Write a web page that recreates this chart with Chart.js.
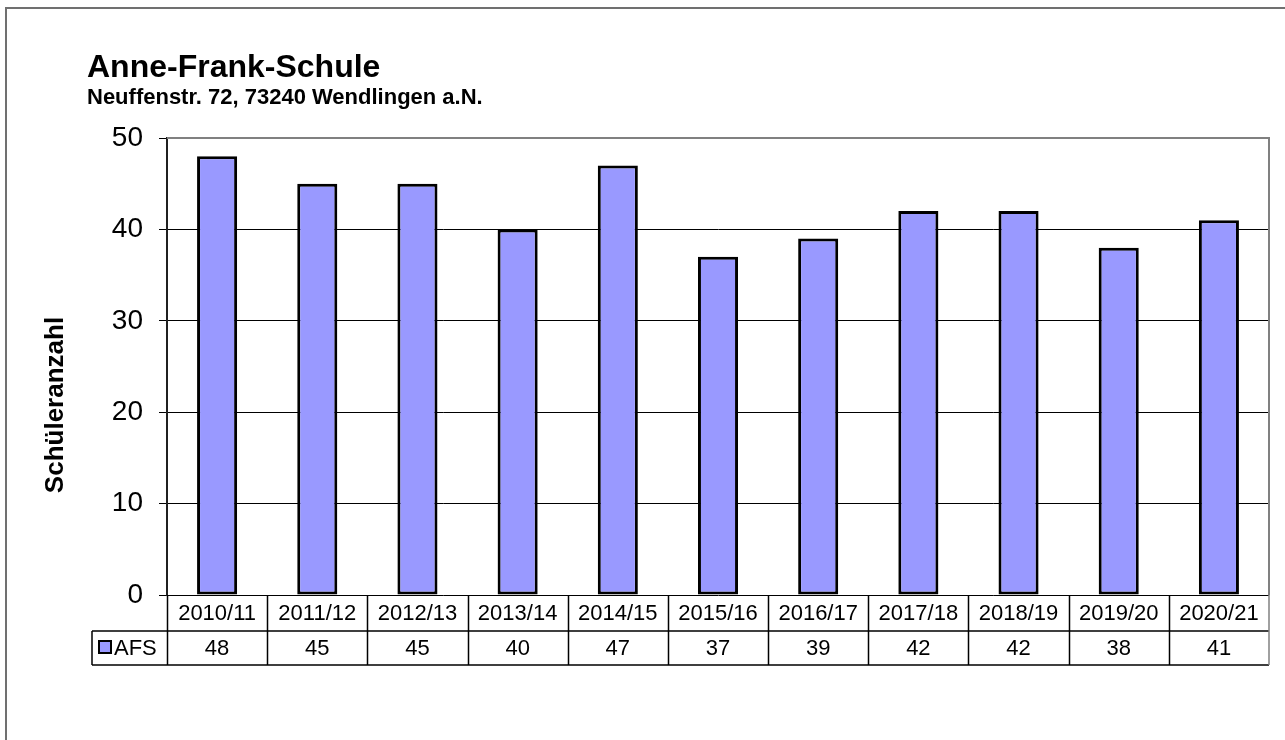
<!DOCTYPE html>
<html>
<head>
<meta charset="utf-8">
<title>Anne-Frank-Schule</title>
<script src="https://cdn.jsdelivr.net/npm/chart.js@4/dist/chart.umd.min.js"></script>
<style>
  body { margin: 0; background: #fff; }
  #wrap { width: 1285px; height: 740px; }
</style>
</head>
<body>
<div id="wrap"><canvas id="afsChart" width="1285" height="740"></canvas></div>
<script>
    // Schuljahre und Schülerzahlen
    const schuljahre = ['2010/11', '2011/12', '2012/13', '2013/14', '2014/15', '2015/16', '2016/17', '2017/18', '2018/19', '2019/20', '2020/21'];
    const afsWerte = [48, 45, 45, 40, 47, 37, 39, 42, 42, 38, 41];
    const serienName = 'AFS';
    const titel = 'Anne-Frank-Schule';
    const untertitel = 'Neuffenstr. 72, 73240 Wendlingen a.N.';
    const achsenTitel = 'Schüleranzahl';

    const FONT = 'Arial, "Liberation Sans", sans-serif';
    const barFarbe = '#9999FF';

    // Rahmen, Titel, Achsentitel und Datentabelle (wie in Excel)
    const excelDeko = {
        id: 'excelDeko',
        beforeDraw(chart) {
            const c = chart.ctx;
            c.save();
            c.fillStyle = '#fff';
            c.fillRect(0, 0, chart.width, chart.height);
            c.strokeStyle = '#707070';
            c.lineWidth = 2;
            c.beginPath();
            c.moveTo(6, chart.height);
            c.lineTo(6, 8);
            c.lineTo(chart.width, 8);
            c.stroke();
            c.restore();
        },
        afterDraw(chart) {
            const c = chart.ctx;
            const area = chart.chartArea;
            const x = chart.scales.x;
            c.save();

            // Titel
            c.fillStyle = '#000';
            c.textAlign = 'left';
            c.textBaseline = 'alphabetic';
            c.font = 'bold 32px ' + FONT;
            c.fillText(titel, 87, 77);
            c.font = 'bold 22px ' + FONT;
            c.fillText(untertitel, 87, 104);

            // Achsentitel
            c.save();
            c.translate(63, 405);
            c.rotate(-Math.PI / 2);
            c.textAlign = 'center';
            c.font = 'bold 26px ' + FONT;
            c.fillText(achsenTitel, 0, 0);
            c.restore();

            // Plotrahmen oben / rechts
            c.strokeStyle = '#808080';
            c.lineWidth = 2;
            c.beginPath();
            c.moveTo(area.left, area.top);
            c.lineTo(area.right, area.top);
            c.lineTo(area.right, area.bottom);
            c.stroke();

            // Datentabelle
            const rowTop = area.bottom;
            const rowMid = area.bottom + 36;
            const rowBot = area.bottom + 70;
            const legLeft = 92;
            const step = x.getPixelForValue(1) - x.getPixelForValue(0);
            c.strokeStyle = '#000';
            c.lineWidth = 1.5;
            c.beginPath();
            c.moveTo(legLeft, rowMid); c.lineTo(area.right, rowMid);
            c.moveTo(legLeft, rowBot); c.lineTo(area.right, rowBot);
            c.moveTo(legLeft, rowMid); c.lineTo(legLeft, rowBot);
            schuljahre.forEach((_, i) => {
                const xl = Math.round(x.getPixelForValue(i) - step / 2) + 0.5;
                c.moveTo(xl, rowTop); c.lineTo(xl, rowBot);
            });
            c.stroke();
            c.strokeStyle = '#808080';
            c.beginPath();
            c.moveTo(area.right, rowTop); c.lineTo(area.right, rowBot);
            c.stroke();

            c.fillStyle = '#000';
            c.textAlign = 'center';
            c.textBaseline = 'middle';
            c.font = '22px ' + FONT;
            schuljahre.forEach((s, i) => {
                const xc = x.getPixelForValue(i);
                c.fillText(s, xc, (rowTop + rowMid) / 2 + 1);
                c.fillText(String(afsWerte[i]), xc, (rowMid + rowBot) / 2 + 1);
            });

            // Legendenschlüssel
            c.fillStyle = barFarbe;
            c.fillRect(99, rowMid + 10, 12, 12);
            c.strokeStyle = '#000';
            c.lineWidth = 2;
            c.strokeRect(99, rowMid + 10, 12, 12);
            c.fillStyle = '#000';
            c.textAlign = 'left';
            c.fillText(serienName, 114, (rowMid + rowBot) / 2 + 1);
            c.restore();
        }
    };

    const ctx = document.getElementById('afsChart').getContext('2d');
    const afsChart = new Chart(ctx, {
        type: 'bar',
        data: {
            labels: schuljahre,
            datasets: [{
                label: serienName,
                data: afsWerte,
                backgroundColor: barFarbe,
                borderColor: '#000',
                borderWidth: 3,
                borderSkipped: false,
                barPercentage: 0.4,
                categoryPercentage: 1.0
            }]
        },
        options: {
            responsive: false,
            animation: false,
            layout: {
                padding: { left: 0, top: 138, right: 16, bottom: 145 }
            },
            plugins: {
                legend: { display: false },
                title: { display: false },
                tooltip: { enabled: false }
            },
            scales: {
                x: {
                    display: false
                },
                y: {
                    min: 0,
                    max: 50,
                    ticks: {
                        stepSize: 10,
                        color: '#000',
                        padding: 16,
                        font: { family: FONT, size: 28 }
                    },
                    grid: {
                        color: '#000',
                        lineWidth: 1,
                        tickLength: 8,
                        tickColor: '#000'
                    },
                    border: { color: '#202020', width: 2 },
                    afterFit(scale) { scale.width = 167; }
                }
            }
        },
        plugins: [excelDeko]
    });
</script>
</body>
</html>
